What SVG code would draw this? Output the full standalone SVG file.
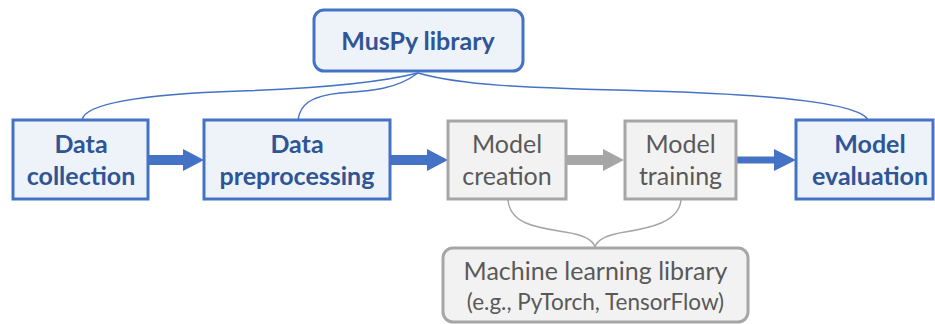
<svg xmlns="http://www.w3.org/2000/svg" width="935" height="324" viewBox="0 0 935 324">
  <style>
    .bbox { fill: #EEF2F9; stroke: #4472C4; stroke-width: 3; }
    .gbox { fill: #F2F2F2; stroke: #A6A6A6; stroke-width: 3; }
    .btxt { font-family: Lato, "Open Sans", "Liberation Sans", sans-serif; font-weight: bold; font-size: 25px; fill: #2F5597; text-anchor: middle; }
    .gtxt { font-family: Lato, "Open Sans", "Liberation Sans", sans-serif; font-size: 25px; fill: #595959; text-anchor: middle; }
    .gsmall { font-family: Lato, "Open Sans", "Liberation Sans", sans-serif; font-size: 22.5px; fill: #595959; text-anchor: middle; }
    .bline { fill: none; stroke: #4472C4; stroke-width: 1.5; }
    .gline { fill: none; stroke: #A6A6A6; stroke-width: 1.5; }
    .barrow { fill: #4472C4; }
    .garrow { fill: #A6A6A6; }
  </style>
  <rect width="935" height="324" fill="#FFFFFF"/>
  <g id="connectors">
    <path class="bline" d="M418,73 C370,85 300,89 240,91 C150,94 85,102 82,120"/>
    <path class="bline" d="M418,73 C395,90 370,91 340,93 C310,96 300,105 298,120"/>
    <path class="bline" d="M418,73 C460,85 520,88 650,91 C790,95 860,105 868,120"/>
    <path class="gline" d="M508,200 C510,225 540,228 565,232 C585,235 593,240 595,247"/>
    <path class="gline" d="M681,200 C679,222 650,228 625,232 C605,235 597,240 595,247"/>
    <polygon class="barrow" points="148,155 183,155 183,149 204,160 183,171 183,165 148,165"/>
    <polygon class="barrow" points="390,155 427,155 427,149 448,160 427,171 427,165 390,165"/>
    <polygon class="garrow" points="566,155 603,155 603,149 624,160 603,171 603,165 566,165"/>
    <polygon class="barrow" points="736,156.5 774,156.5 774,149 796,160 774,171 774,163.5 736,163.5"/>
  </g>
  <g id="muspy">
    <rect class="bbox" x="314" y="10" width="209" height="61" rx="10"/>
    <text class="btxt" x="418" y="50">MusPy library</text>
  </g>
  <g id="data-collection">
    <rect class="bbox" x="13" y="120" width="135" height="79"/>
    <text class="btxt" x="81" y="153">Data</text>
    <text class="btxt" x="81" y="185">collection</text>
  </g>
  <g id="data-preprocessing">
    <rect class="bbox" x="204" y="120" width="186" height="79"/>
    <text class="btxt" x="297" y="153">Data</text>
    <text class="btxt" x="297" y="185">preprocessing</text>
  </g>
  <g id="model-creation">
    <rect class="gbox" x="448" y="121" width="118" height="78"/>
    <text class="gtxt" x="507" y="153">Model</text>
    <text class="gtxt" x="507" y="185">creation</text>
  </g>
  <g id="model-training">
    <rect class="gbox" x="625" y="121" width="111" height="78"/>
    <text class="gtxt" x="680.5" y="153">Model</text>
    <text class="gtxt" x="680.5" y="185">training</text>
  </g>
  <g id="model-evaluation">
    <rect class="bbox" x="796" y="120" width="137" height="79"/>
    <text class="btxt" x="870" y="153">Model</text>
    <text class="btxt" x="870" y="185">evaluation</text>
  </g>
  <g id="ml-library">
    <rect class="gbox" x="443" y="248" width="305" height="74" rx="10"/>
    <text class="gtxt" x="595.5" y="280">Machine learning library</text>
    <text class="gsmall" x="595.5" y="310">(e.g., PyTorch, TensorFlow)</text>
  </g>
</svg>
